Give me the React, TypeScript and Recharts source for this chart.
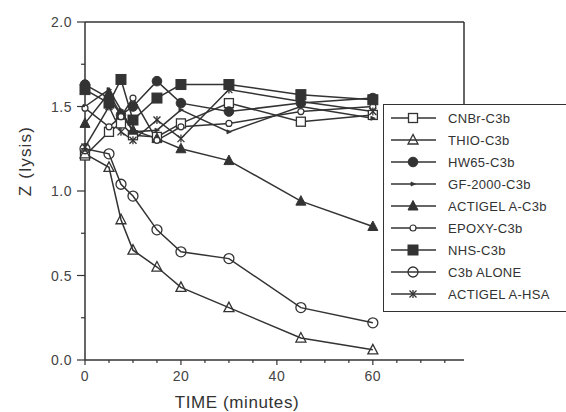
import React from 'react';
import { LineChart, Line, XAxis, YAxis, ReferenceLine, Legend } from 'recharts';

const TIMES = [0, 5, 7.5, 10, 15, 20, 30, 45, 60];
const CNBR = [1.21, 1.35, 1.40, 1.33, 1.32, 1.40, 1.52, 1.41, 1.45];
const THIO = [1.22, 1.14, 0.83, 0.65, 0.55, 0.43, 0.31, 0.13, 0.06];
const HW65 = [1.63, 1.55, 1.45, 1.50, 1.65, 1.52, 1.47, 1.52, 1.55];
const GF2000 = [1.50, 1.60, 1.48, 1.35, 1.36, 1.48, 1.35, 1.50, 1.43];
const ACTIGEL = [1.40, 1.58, 1.45, 1.36, 1.31, 1.25, 1.18, 0.94, 0.79];
const EPOXY = [1.49, 1.38, 1.44, 1.55, 1.30, 1.38, 1.40, 1.47, 1.50];
const NHS = [1.60, 1.52, 1.66, 1.42, 1.55, 1.63, 1.63, 1.57, 1.54];
const C3B_ALONE = [1.25, 1.22, 1.04, 0.97, 0.77, 0.64, 0.60, 0.31, 0.22];
const HSA = [1.26, 1.50, 1.35, 1.30, 1.42, 1.31, 1.60, 1.53, 1.47];

const X_TICKS = [0, 5, 10, 15, 20, 25, 30, 35, 40, 45, 50, 55, 60, 65, 70, 75];
const X_LABELS = [0, 20, 40, 60];
const Y_TICKS = [0, 0.25, 0.5, 0.75, 1, 1.25, 1.5, 1.75, 2];
const Y_LABELS = [0, 0.5, 1, 1.5, 2];

const SERIES = [
  { key: 'cnbr', name: 'CNBr-C3b', values: CNBR, mark: 'sqOpen' },
  { key: 'thio', name: 'THIO-C3b', values: THIO, mark: 'triOpen' },
  { key: 'hw65', name: 'HW65-C3b', values: HW65, mark: 'circFilled' },
  { key: 'gf', name: 'GF-2000-C3b', values: GF2000, mark: 'tiny' },
  { key: 'actigel', name: 'ACTIGEL A-C3b', values: ACTIGEL, mark: 'triFilled' },
  { key: 'epoxy', name: 'EPOXY-C3b', values: EPOXY, mark: 'circSmall' },
  { key: 'nhs', name: 'NHS-C3b', values: NHS, mark: 'sqFilled' },
  { key: 'c3b', name: 'C3b ALONE', values: C3B_ALONE, mark: 'circOpen' },
  { key: 'hsa', name: 'ACTIGEL A-HSA', values: HSA, mark: 'star' },
];

const data = TIMES.map((t, i) => {
  const row: any = { t };
  SERIES.forEach((s) => { row[s.key] = s.values[i]; });
  return row;
});

const INK = '#333';
const FONT = '"Liberation Sans", Arial, sans-serif';

function Mark({ kind, cx, cy }: { kind: string; cx: number; cy: number }) {
  if (cx == null || cy == null) return null;
  switch (kind) {
    case 'sqOpen':
      return <rect x={cx - 4.5} y={cy - 4.5} width={9} height={9} fill="#fff" stroke={INK} strokeWidth={1.3} />;
    case 'triOpen':
      return <polygon points={`${cx},${cy - 5.5} ${cx - 5},${cy + 4} ${cx + 5},${cy + 4}`} fill="none" stroke={INK} strokeWidth={1.3} />;
    case 'circFilled':
      return <circle cx={cx} cy={cy} r={4.8} fill={INK} stroke={INK} />;
    case 'tiny':
      return <polygon points={`${cx - 2},${cy - 2} ${cx + 2.5},${cy} ${cx - 2},${cy + 2}`} fill={INK} stroke={INK} strokeWidth={0.8} />;
    case 'triFilled':
      return <polygon points={`${cx},${cy - 5.5} ${cx - 5},${cy + 4} ${cx + 5},${cy + 4}`} fill={INK} stroke={INK} strokeWidth={1} />;
    case 'circSmall':
      return <circle cx={cx} cy={cy} r={3} fill="#fff" stroke={INK} strokeWidth={1.2} />;
    case 'sqFilled':
      return <rect x={cx - 5} y={cy - 5} width={10} height={10} fill={INK} stroke={INK} />;
    case 'circOpen':
      return <circle cx={cx} cy={cy} r={5} fill="none" stroke={INK} strokeWidth={1.3} />;
    case 'star':
      return (
        <g stroke={INK} strokeWidth={1.3}>
          <line x1={cx - 3.5} y1={cy - 3.5} x2={cx + 3.5} y2={cy + 3.5} />
          <line x1={cx - 3.5} y1={cy + 3.5} x2={cx + 3.5} y2={cy - 3.5} />
          <line x1={cx} y1={cy - 4} x2={cx} y2={cy + 4} />
        </g>
      );
    default:
      return null;
  }
}

function XTick(props: any) {
  const { x, y, payload } = props;
  const v = payload.value;
  const major = X_LABELS.includes(v);
  return (
    <g>
      <line x1={x} y1={y} x2={x} y2={y + (major ? 5 : 3)} stroke={INK} strokeWidth={1.2} />
      {major && (
        <text x={x} y={y + 21} textAnchor="middle" fontFamily={FONT} fontSize={14} fill="#444" letterSpacing={0.5}>
          {v}
        </text>
      )}
    </g>
  );
}

function YTick(props: any) {
  const { x, y, payload } = props;
  const v = payload.value;
  const major = Y_LABELS.includes(v);
  return (
    <g>
      <line x1={x} y1={y} x2={x - (major ? 8 : 4)} y2={y} stroke={INK} strokeWidth={1.2} />
      {major && (
        <text x={x - 13} y={y + 5} textAnchor="end" fontFamily={FONT} fontSize={14} fill="#444" letterSpacing={0.5}>
          {v.toFixed(1)}
        </text>
      )}
    </g>
  );
}

function LegendBox() {
  return (
    <div
      style={{
        width: 185,
        boxSizing: 'border-box',
        border: `1.6px solid ${INK}`,
        borderRight: 'none',
        background: '#fff',
        paddingTop: 2,
        paddingBottom: 6,
      }}
    >
      {SERIES.map((s) => (
        <div key={s.key} style={{ height: 22, display: 'flex', alignItems: 'center' }}>
          <svg width={64} height={22} style={{ display: 'block', flex: 'none' }}>
            <line x1={7} y1={11} x2={52} y2={11} stroke={INK} strokeWidth={1.4} />
            <Mark kind={s.mark} cx={29} cy={11} />
          </svg>
          <span style={{ fontFamily: FONT, fontSize: 13, color: '#333', letterSpacing: 0.3, whiteSpace: 'nowrap' }}>
            {s.name}
          </span>
        </div>
      ))}
    </div>
  );
}

export default function App() {
  return (
    <div style={{ position: 'absolute', left: 0, top: 0, width: 566, height: 412, overflow: 'hidden', background: '#fff' }}>
      <LineChart width={566} height={412} data={data} margin={{ top: 22, right: 102, bottom: 0, left: 0 }}>
        <XAxis
          dataKey="t"
          type="number"
          domain={[0, 79]}
          ticks={X_TICKS}
          interval={0}
          tickSize={0}
          tickMargin={0}
          tick={<XTick />}
          height={52}
          axisLine={{ stroke: INK, strokeWidth: 1.5 }}
          tickLine={false}
          label={{
            content: () => (
              <text x={237} y={408} textAnchor="middle" fontFamily={FONT} fontSize={17} fill="#333" letterSpacing={0.6}>
                TIME (minutes)
              </text>
            ),
          }}
        />
        <YAxis
          type="number"
          domain={[0, 2]}
          ticks={Y_TICKS}
          interval={0}
          width={85}
          tickSize={0}
          tickMargin={0}
          tick={<YTick />}
          axisLine={{ stroke: INK, strokeWidth: 1.5 }}
          tickLine={false}
          label={{
            content: () => (
              <text
                x={25}
                y={161}
                transform="rotate(-90 25 161)"
                textAnchor="middle"
                dominantBaseline="central"
                fontFamily={FONT}
                fontSize={17}
                fill="#333"
                letterSpacing={1.2}
              >
                Z (lysis)
              </text>
            ),
          }}
        />
        <ReferenceLine y={2} stroke={INK} strokeWidth={1.5} />
        <ReferenceLine
          segment={[{ x: 79, y: 2 }, { x: 79, y: 1.45 }]}
          stroke={INK}
          strokeWidth={1.5}
        />
        {SERIES.map((s) => (
          <Line
            key={s.key}
            dataKey={s.key}
            name={s.name}
            stroke={INK}
            strokeWidth={1.5}
            isAnimationActive={false}
            dot={(p: any) => <Mark key={`${s.key}-${p.index}`} kind={s.mark} cx={p.cx} cy={p.cy} />}
            activeDot={false}
          />
        ))}
        <Legend
          layout="vertical"
          align="center"
          verticalAlign="middle"
          content={() => <LegendBox />}
          wrapperStyle={{ left: 383, top: 104, width: 185, margin: 0 }}
        />
      </LineChart>
    </div>
  );
}
